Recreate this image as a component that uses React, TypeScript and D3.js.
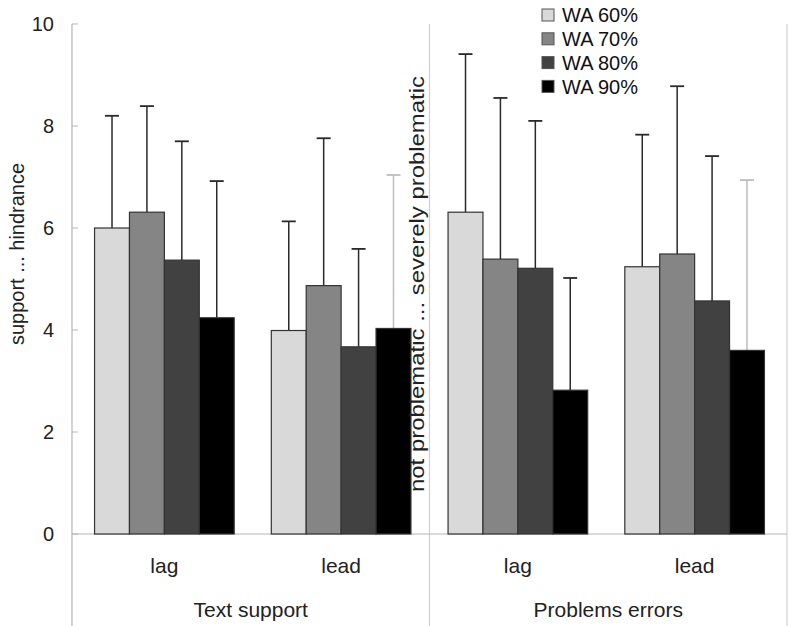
import React from "react";
import * as d3 from "d3";

const categories = ["lag", "lead", "lag", "lead"];
const panels = ["Text support", "Problems errors"];
const series = ["WA 60%", "WA 70%", "WA 80%", "WA 90%"];
const wa60 = [6.0, 3.99, 6.31, 5.24];
const wa60err = [8.2, 6.13, 9.41, 7.83];
const wa70 = [6.31, 4.87, 5.39, 5.49];
const wa70err = [8.39, 7.76, 8.55, 8.78];
const wa80 = [5.37, 3.67, 5.21, 4.57];
const wa80err = [7.7, 5.59, 8.1, 7.41];
const wa90 = [4.24, 4.03, 2.82, 3.6];
const wa90err = [6.92, 7.04, 5.02, 6.94];
const yTicks = [0, 2, 4, 6, 8, 10];
const yTitleLeft = "support ... hindrance";
const yTitleRight = "not problematic ... severely problematic";

const values = [wa60, wa70, wa80, wa90];
const errors = [wa60err, wa70err, wa80err, wa90err];
const fills = ["#d9d9d9", "#858585", "#414141", "#000000"];

export default function App() {
  const W = 791, H = 626;
  const left = 72, right = 787, top = 24, base = 534;
  const y = d3.scaleLinear().domain([0, 10]).range([base, top]);
  const x = d3.scaleBand<number>().domain(d3.range(categories.length)).range([76, 783]).paddingInner(0.21).paddingOuter(0.105);
  const xs = d3.scaleBand<number>().domain(d3.range(series.length)).range([0, x.bandwidth()]);
  const font = "'Liberation Sans', Arial, sans-serif";
  const grid = "#b5b5b5";
  const mid = (x(1)! + x.bandwidth() + x(2)!) / 2;
  return (
    <svg width={W} height={H} style={{ position: "absolute", left: 0, top: 0, background: "#fff" }} fontFamily={font}>
      <line x1={left} x2={left} y1={top} y2={H} stroke={grid} strokeWidth={1.2} />
      <line x1={mid} x2={mid} y1={top} y2={H} stroke="#d0d0d0" strokeWidth={1.2} />
      <line x1={right} x2={right} y1={top} y2={H} stroke="#d0d0d0" strokeWidth={1.2} />
      <line x1={left} x2={right} y1={base} y2={base} stroke={grid} strokeWidth={1.2} />
      {yTicks.map((t) => (
        <g key={t}>
          <line x1={left} x2={left + 6} y1={y(t)} y2={y(t)} stroke={grid} />
          <text x={54} y={y(t)} dy="0.35em" textAnchor="end" fontSize={20} fill="#222">{t}</text>
        </g>
      ))}
      {categories.map((c, ci) => (
        <g key={ci} transform={`translate(${x(ci)},0)`}>
          {series.map((s, si) => {
            const v = values[si][ci];
            const e = errors[si][ci];
            const bx = xs(si)!;
            const cx = bx + xs.bandwidth() / 2;
            const ec = si === 3 && c === "lead" ? "#bdbdbd" : "#2a2a2a";
            return (
              <g key={si}>
                <line x1={cx} x2={cx} y1={y(v)} y2={y(e)} stroke={ec} strokeWidth={1.5} />
                <line x1={cx - 7} x2={cx + 7} y1={y(e)} y2={y(e)} stroke={ec} strokeWidth={1.8} />
                <rect x={bx} y={y(v)} width={xs.bandwidth()} height={base - y(v)} fill={fills[si]} stroke="#333" strokeWidth={1.2} />
              </g>
            );
          })}
          <text x={x.bandwidth() / 2} y={573} textAnchor="middle" fontSize={21} fill="#222">{c}</text>
        </g>
      ))}
      {panels.map((p, pi) => {
        const cx = pi === 0 ? (left + mid) / 2 : (mid + right) / 2;
        return <text key={p} x={cx} y={617} textAnchor="middle" fontSize={21} fill="#222">{p}</text>;
      })}
      <text transform={`translate(24,254) rotate(-90)`} textAnchor="middle" fontSize={20} fill="#222" textLength={182} lengthAdjust="spacingAndGlyphs">{yTitleLeft}</text>
      <text transform={`translate(424,284) rotate(-90)`} textAnchor="middle" fontSize={20} fill="#222" textLength={416} lengthAdjust="spacingAndGlyphs">{yTitleRight}</text>
      {series.map((s, i) => (
        <g key={s} transform={`translate(542,${15 + i * 23.8})`}>
          <rect x={0} y={-6} width={12} height={12} fill={fills[i]} stroke="#555" strokeWidth={1} />
          <text x={20} y={0} dy="0.36em" fontSize={20} fill="#111">{s}</text>
        </g>
      ))}
    </svg>
  );
}
